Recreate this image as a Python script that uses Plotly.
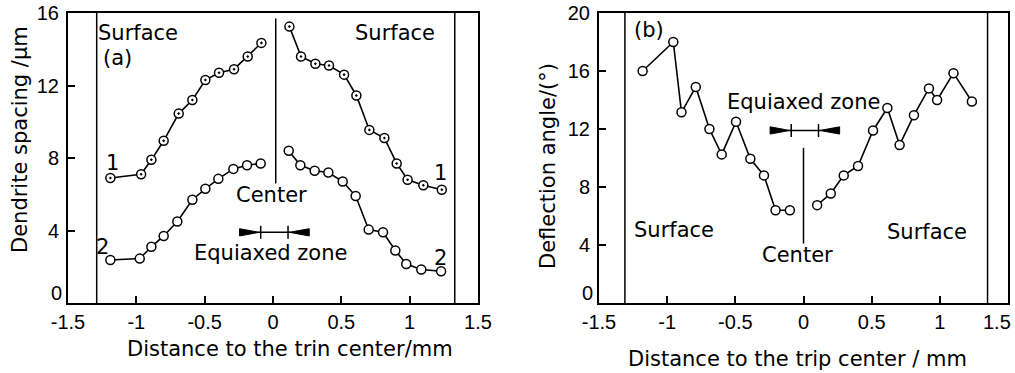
import plotly.graph_objects as go

# ---------------- data ----------------
# panel (a): dendrite spacing
a_curve1_left_x = [-1.19, -0.965, -0.89, -0.80, -0.69, -0.59, -0.495, -0.395, -0.285, -0.185, -0.085]
a_curve1_left_y = [6.9, 7.1, 7.9, 8.95, 10.45, 11.2, 12.3, 12.7, 12.9, 13.6, 14.35]
a_curve1_right_x = [0.12, 0.205, 0.31, 0.41, 0.52, 0.61, 0.705, 0.815, 0.905, 0.985, 1.10, 1.235]
a_curve1_right_y = [15.25, 13.6, 13.2, 13.1, 12.6, 11.45, 9.55, 9.1, 7.7, 6.8, 6.5, 6.25]
a_curve2_left_x = [-1.19, -0.975, -0.89, -0.80, -0.70, -0.59, -0.495, -0.40, -0.29, -0.19, -0.09]
a_curve2_left_y = [2.37, 2.45, 3.1, 3.7, 4.5, 5.7, 6.3, 6.85, 7.4, 7.6, 7.7]
a_curve2_right_x = [0.115, 0.20, 0.305, 0.405, 0.51, 0.605, 0.70, 0.805, 0.895, 0.975, 1.085, 1.23]
a_curve2_right_y = [8.4, 7.6, 7.3, 7.2, 6.7, 5.9, 4.05, 3.9, 2.9, 2.15, 1.85, 1.75]

# panel (b): deflection angle
b_left_x = [-1.18, -0.955, -0.895, -0.79, -0.69, -0.60, -0.495, -0.39, -0.29, -0.205, -0.10]
b_left_y = [16.0, 18.0, 13.15, 14.9, 12.0, 10.25, 12.5, 9.95, 8.8, 6.4, 6.4]
b_right_x = [0.10, 0.20, 0.295, 0.40, 0.51, 0.615, 0.705, 0.81, 0.92, 0.98, 1.10, 1.235]
b_right_y = [6.75, 7.55, 8.8, 9.45, 11.9, 13.45, 10.9, 12.95, 14.8, 14.0, 15.85, 13.9]

# reference positions
a_surface_x = [-1.29, 1.33]
b_surface_x = [-1.31, 1.35]
a_center_x = 0.02
a_center_span = [6.6, 15.7]
b_center_x = 0.0
b_center_span = [4.1, 10.7]
equiaxed_bounds = [-0.09, 0.11]
a_arrow_y = 3.9
b_arrow_y = 11.9

x_tickvals = [-1.5, -1, -0.5, 0, 0.5, 1, 1.5]
x_ticktext = ["-1.5", "-1", "-0.5", "0", "0.5", "1", "1.5"]
a_yticks = [0, 4, 8, 12, 16]
b_yticks = [0, 4, 8, 12, 16, 20]

FONT = "DejaVu Sans"
TICKFONT = "Liberation Sans"
FS = 21
TFS = 20

fig = go.Figure()

line_style = dict(color="black", width=1.6)
dot_marker = dict(symbol="circle-dot", size=9, color="white", line=dict(color="black", width=1.5))
open_marker = dict(symbol="circle", size=9, color="white", line=dict(color="black", width=1.5))

for xs, ys, mk in [
    (a_curve1_left_x, a_curve1_left_y, dot_marker),
    (a_curve1_right_x, a_curve1_right_y, dot_marker),
    (a_curve2_left_x, a_curve2_left_y, open_marker),
    (a_curve2_right_x, a_curve2_right_y, open_marker),
]:
    fig.add_trace(go.Scatter(x=xs, y=ys, mode="lines+markers", line=line_style,
                             marker=mk, xaxis="x", yaxis="y", showlegend=False,
                             cliponaxis=False))

for xs, ys in [(b_left_x, b_left_y), (b_right_x, b_right_y)]:
    fig.add_trace(go.Scatter(x=xs, y=ys, mode="lines+markers", line=line_style,
                             marker=open_marker, xaxis="x2", yaxis="y2", showlegend=False,
                             cliponaxis=False))

shapes = []
# surface lines
for xv in a_surface_x:
    shapes.append(dict(type="line", xref="x", yref="y domain", x0=xv, x1=xv, y0=0, y1=1,
                       line=dict(color="black", width=1.5)))
for xv in b_surface_x:
    shapes.append(dict(type="line", xref="x2", yref="y2 domain", x0=xv, x1=xv, y0=0, y1=1,
                       line=dict(color="black", width=1.5)))

# center lines
shapes.append(dict(type="line", xref="x", yref="y", x0=a_center_x, x1=a_center_x,
                   y0=a_center_span[0], y1=a_center_span[1], line=dict(color="black", width=1.5)))
shapes.append(dict(type="line", xref="x2", yref="y2", x0=b_center_x, x1=b_center_x,
                   y0=b_center_span[0], y1=b_center_span[1], line=dict(color="black", width=1.5)))


def equiaxed_arrow(xr, yr, yc, tick_h, tri_h):
    out = []
    lo, hi = equiaxed_bounds
    arrow_len = 0.155
    out.append(dict(type="line", xref=xr, yref=yr, x0=lo - 0.02, x1=hi + 0.02, y0=yc, y1=yc,
                    line=dict(color="black", width=1.5)))
    for tv in (lo, hi):
        out.append(dict(type="line", xref=xr, yref=yr, x0=tv, x1=tv, y0=yc - tick_h, y1=yc + tick_h,
                        line=dict(color="black", width=1.5)))
    x0 = lo - arrow_len
    x1 = lo - 0.01
    out.append(dict(type="path", xref=xr, yref=yr,
                    path=f"M {x0},{yc - tri_h} L {x1},{yc} L {x0},{yc + tri_h} Z",
                    fillcolor="black", line=dict(color="black", width=1)))
    x0 = hi + arrow_len
    x1 = hi + 0.01
    out.append(dict(type="path", xref=xr, yref=yr,
                    path=f"M {x0},{yc - tri_h} L {x1},{yc} L {x0},{yc + tri_h} Z",
                    fillcolor="black", line=dict(color="black", width=1)))
    return out


shapes += equiaxed_arrow("x", "y", a_arrow_y, 0.36, 0.2)
shapes += equiaxed_arrow("x2", "y2", b_arrow_y, 0.45, 0.25)

fig.update_layout(shapes=shapes)

ann = []


def t(text, x, y, xref, yref, xanchor="center", size=FS):
    ann.append(dict(text=text, x=x, y=y, xref=xref, yref=yref, showarrow=False,
                    xanchor=xanchor, yanchor="middle", font=dict(family=FONT, size=size, color="black")))


# panel a annotations
t("Surface", -1.295, 14.9, "x", "y", "left")
t("(a)", -1.26, 13.5, "x", "y", "left")
t("Surface", 1.2, 14.9, "x", "y", "right")
t("1", -1.175, 7.75, "x", "y")
t("1", 1.229, 7.2, "x", "y")
t("2", -1.25, 3.1, "x", "y")
t("2", 1.229, 2.5, "x", "y")
t("Center", -0.01, 5.95, "x", "y")
t("Equiaxed zone", -0.02, 2.75, "x", "y")

# panel b annotations
t("(b)", -1.26, 18.85, "x2", "y2", "left")
t("Equiaxed zone", 0.0, 13.85, "x2", "y2")
t("Center", -0.044, 3.3, "x2", "y2")
t("Surface", -1.26, 5.03, "x2", "y2", "left")
t("Surface", 0.6, 4.9, "x2", "y2", "left")

# tick labels that sit off-centre in the original (zero on y, last x on panel b)
tick_font = dict(family=TICKFONT, size=TFS, color="black")
for xr, yr in [("x domain", "y"), ("x2 domain", "y2")]:
    ann.append(dict(text="0", x=0, y=a_yticks[0], xref=xr, yref=yr, showarrow=False,
                    xanchor="right", yanchor="bottom", xshift=-4, yshift=-3, font=tick_font))
ann.append(dict(text=x_ticktext[-1], x=x_tickvals[-1], y=0, xref="x2", yref="y2 domain", showarrow=False,
                xanchor="right", yanchor="top", xshift=5, yshift=-6, font=tick_font))

# axis titles
W, H = 1015, 373
t("Distance to the trin center/mm", 290 / W, 1 - 349 / H, "paper", "paper")
t("Distance to the trip center / mm", 797 / W, 1 - 359 / H, "paper", "paper")
ann.append(dict(text="Dendrite spacing /μm", x=20 / W, y=1 - 140 / H, xref="paper", yref="paper",
                showarrow=False, textangle=-90, xanchor="center", yanchor="middle",
                font=dict(family=FONT, size=FS, color="black")))
ann.append(dict(text="Deflection angle/(°)", x=548 / W, y=1 - 166 / H, xref="paper", yref="paper",
                showarrow=False, textangle=-90, xanchor="center", yanchor="middle",
                font=dict(family=FONT, size=FS, color="black")))

fig.update_layout(annotations=ann)

axis_common = dict(showgrid=False, zeroline=False, showline=True, linecolor="black", linewidth=2,
                   mirror=True, ticks="inside", ticklen=7, tickwidth=1.5, tickcolor="black",
                   tickfont=tick_font, automargin=False)

a_ytext = [""] + [str(v) for v in a_yticks[1:]]
b_ytext = [""] + [str(v) for v in b_yticks[1:]]
b_xtext = x_ticktext[:-1] + [""]

fig.update_layout(
    width=W, height=H,
    margin=dict(l=0, r=0, t=0, b=0),
    paper_bgcolor="white", plot_bgcolor="white",
    xaxis=dict(domain=[68 / W, 478 / W], range=[-1.5, 1.5], tickvals=x_tickvals, ticktext=x_ticktext,
               anchor="y", ticklabeloverflow="allow", **axis_common),
    yaxis=dict(domain=[1 - 303 / H, 1 - 13 / H], range=[0, 16], tickvals=a_yticks, ticktext=a_ytext,
               anchor="x", ticklabelstandoff=3, **axis_common),
    xaxis2=dict(domain=[599 / W, 1008 / W], range=[-1.5, 1.5], tickvals=x_tickvals, ticktext=b_xtext,
                anchor="y2", ticklabeloverflow="allow", **axis_common),
    yaxis2=dict(domain=[1 - 303 / H, 1 - 13 / H], range=[0, 20], tickvals=b_yticks, ticktext=b_ytext,
                anchor="x2", ticklabelstandoff=3, **axis_common),
    showlegend=False,
)

fig.write_html("out.html", config={"displayModeBar": False},
               post_script="document.body.style.margin='0px';document.body.style.overflow='hidden';")
